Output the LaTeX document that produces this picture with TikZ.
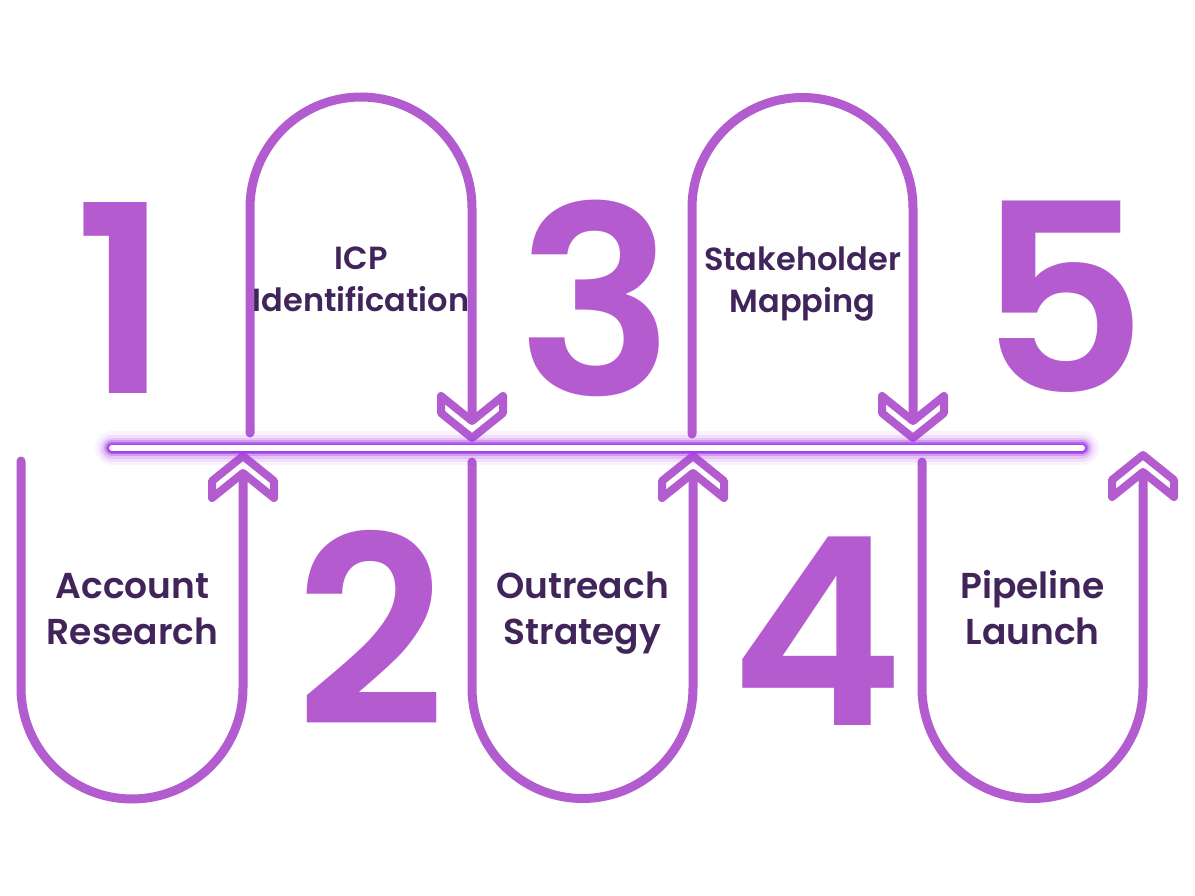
\documentclass[tikz,border=0pt]{standalone}
\usepackage{fontspec}
\newfontfamily\popsemi{Poppins SemiBold}
\newfontfamily\popbold{Poppins Bold}
\definecolor{loopc}{RGB}{178,92,208}
\definecolor{numc}{RGB}{181,91,208}
\definecolor{txtc}{RGB}{64,36,90}
\definecolor{glowc}{RGB}{166,60,230}
\tikzset{
  loopst/.style={draw=loopc, line width=9pt, line cap=round, line join=round},
  chevst/.style={draw=loopc, fill=white, line width=8pt, line join=round},
  chev/.pic={\draw[chevst] (0,0) -- (31,25) -- (31,42) -- (0,17) -- (-31,42) -- (-31,25) -- cycle;},
  numst/.style={text=numc, font=\popsemi\fontsize{262}{262}\selectfont, inner sep=0pt, anchor=base},
  lblbig/.style={text=txtc, font=\popsemi\fontsize{36}{46}\selectfont, align=center, inner sep=0pt},
  lblsm/.style={text=txtc, font=\popsemi\fontsize{32}{42}\selectfont, align=center, inner sep=0pt},
  glowst/.style={glowc, line cap=round},
}
\begin{document}
\begin{tikzpicture}[x=1pt,y=-1pt]
\useasboundingbox[fill=white] (0,0) rectangle (1195,896);
% arrow tip coordinates
\coordinate (u1) at (243,456);
\coordinate (d2) at (472,438);
\coordinate (u3) at (693,456);
\coordinate (d4) at (913,438);
\coordinate (u5) at (1143,455);
% loops
\draw[loopst] (21,461) -- (21,688) arc[start angle=180, end angle=0, radius=111] -- ([yshift=-17pt]u1);
\draw[loopst] (250,433) -- (250,208) arc[start angle=180, end angle=360, radius=111] -- ([yshift=17pt]d2);
\draw[loopst] (472,462) -- (472,688) arc[start angle=180, end angle=0, radius=110.5] -- ([yshift=-17pt]u3);
\draw[loopst] (692,434) -- (692,208) arc[start angle=180, end angle=360, radius=110.5] -- ([yshift=17pt]d4);
\draw[loopst] (922,462) -- (922,688) arc[start angle=180, end angle=0, radius=110.5] -- ([yshift=-17pt]u5);
% chevrons
\pic at (u1) {chev};
\pic at (u3) {chev};
\pic at (u5) {chev};
\pic[rotate=180] at (d2) {chev};
\pic[rotate=180] at (d4) {chev};
% glowing line
\coordinate (gA) at (112,448);
\coordinate (gB) at (1082,448);
\draw[glowst, line width=34pt, opacity=0.06] (gA) -- (gB);
\draw[glowst, line width=27pt, opacity=0.10] (gA) -- (gB);
\draw[glowst, line width=21pt, opacity=0.16] (gA) -- (gB);
\draw[glowst, line width=16pt, opacity=0.3] (gA) -- (gB);
\draw[glowst, line width=12pt, opacity=0.6] (gA) -- (gB);
\draw[glowst, line width=9pt, opacity=0.95] (gA) -- (gB);
\draw[white, line width=6pt, line cap=round] (gA) -- (gB);
% numbers
\node[numst] (n1) at (122,393) {1};
\node[numst] (n2) at (371,725) {2};
\node[numst] (n3) at (596,395) {3};
\node[numst] (n4) at (817,725) {4};
\node[numst] (n5) at (1063,392) {5};
% labels
\node[lblbig] (l1) at (132.5,609) {Account\\Research};
\node[lblsm] (l2) at (361,279.5) {ICP\\Identification};
\node[lblbig] (l3) at (582.5,613) {Outreach\\Strategy};
\node[lblsm] (l4) at (802.5,284) {Stakeholder\\Mapping};
\node[lblbig] (l5) at (1032.5,608) {Pipeline\\Launch};
\end{tikzpicture}
\end{document}
